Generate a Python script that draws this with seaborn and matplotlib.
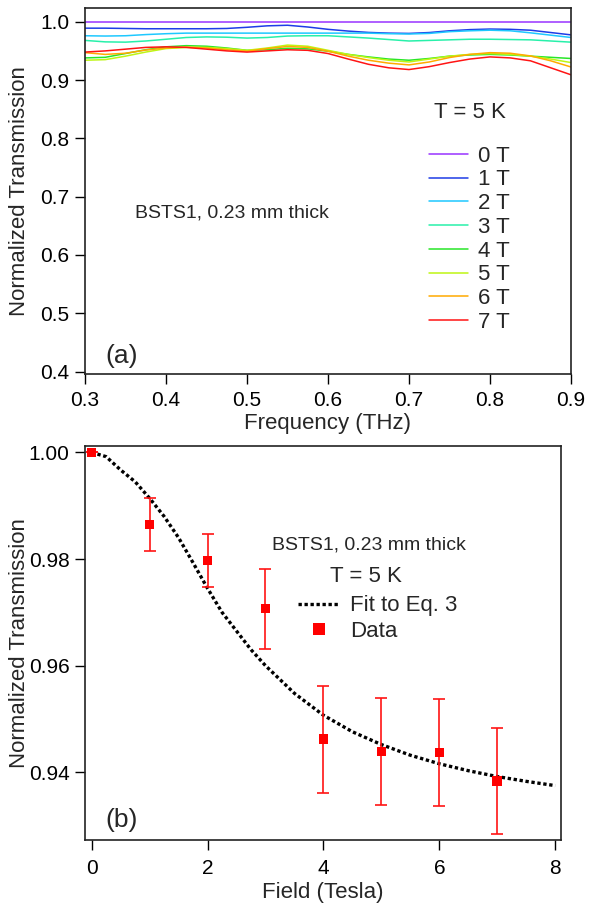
import numpy as np
import pandas as pd
import matplotlib
matplotlib.use("Agg")
import matplotlib.pyplot as plt
import seaborn as sns
from matplotlib.lines import Line2D

# ---------------- data: panel (a) ----------------
freq = [0.300, 0.325, 0.350, 0.375, 0.400, 0.425, 0.450, 0.475, 0.500, 0.525,
        0.550, 0.575, 0.600, 0.625, 0.650, 0.675, 0.700, 0.725, 0.750, 0.775,
        0.800, 0.825, 0.850, 0.875, 0.900]
t_0T = [1.000] * 25
t_1T = [0.989, 0.989, 0.9885, 0.988, 0.988, 0.988, 0.988, 0.9885, 0.9905, 0.993,
        0.994, 0.991, 0.987, 0.984, 0.9817, 0.9805, 0.980, 0.9815, 0.9845, 0.9865,
        0.9875, 0.987, 0.9855, 0.9815, 0.9775]
t_2T = [0.976, 0.9755, 0.976, 0.978, 0.9795, 0.9805, 0.9805, 0.9805, 0.9805, 0.9805,
        0.9805, 0.9805, 0.9805, 0.9805, 0.9805, 0.9795, 0.979, 0.980, 0.983, 0.9845,
        0.9855, 0.9845, 0.981, 0.977, 0.973]
t_3T = [0.968, 0.9655, 0.965, 0.967, 0.970, 0.973, 0.974, 0.9735, 0.972, 0.973,
        0.9755, 0.976, 0.976, 0.974, 0.972, 0.9695, 0.967, 0.968, 0.969, 0.970,
        0.970, 0.9695, 0.969, 0.967, 0.965]
t_4T = [0.938, 0.939, 0.9455, 0.952, 0.957, 0.959, 0.958, 0.955, 0.951, 0.952,
        0.9545, 0.9535, 0.9495, 0.944, 0.9397, 0.936, 0.934, 0.937, 0.941, 0.943,
        0.944, 0.943, 0.941, 0.939, 0.937]
t_5T = [0.934, 0.935, 0.941, 0.948, 0.954, 0.956, 0.956, 0.954, 0.951, 0.955,
        0.960, 0.958, 0.951, 0.944, 0.9386, 0.934, 0.931, 0.936, 0.941, 0.944,
        0.9455, 0.944, 0.941, 0.936, 0.930]
t_6T = [0.947, 0.944, 0.946, 0.9515, 0.955, 0.9565, 0.955, 0.952, 0.9495, 0.954,
        0.9576, 0.956, 0.9495, 0.941, 0.934, 0.929, 0.926, 0.931, 0.9386, 0.944,
        0.947, 0.946, 0.9414, 0.933, 0.9224]
t_7T = [0.948, 0.950, 0.953, 0.956, 0.957, 0.956, 0.953, 0.950, 0.948, 0.950,
        0.952, 0.951, 0.9455, 0.936, 0.927, 0.921, 0.918, 0.923, 0.930, 0.936,
        0.9397, 0.938, 0.933, 0.921, 0.909]
field_labels = ["0 T", "1 T", "2 T", "3 T", "4 T", "5 T", "6 T", "7 T"]
field_colors = ["#9933FF", "#1E3CE6", "#1EC8FF", "#28F0AA",
                "#28E628", "#BEF514", "#FFAA00", "#FF1414"]
freq_ticks = [0.3, 0.4, 0.5, 0.6, 0.7, 0.8, 0.9]
trans_ticks_a = [0.4, 0.5, 0.6, 0.7, 0.8, 0.9, 1.0]

# ---------------- data: panel (b) ----------------
fit_field = [0.0, 0.25, 0.5, 0.75, 1.0, 1.25, 1.5, 1.75, 2.0, 2.25, 2.5, 2.75,
             3.0, 3.5, 4.0, 4.5, 5.0, 5.5, 6.0, 6.5, 7.0, 7.5, 8.0]
fit_trans = [1.0, 0.9992, 0.9967, 0.9945, 0.9914, 0.9880, 0.9840, 0.9793,
             0.9745, 0.9700, 0.9665, 0.9630, 0.9600, 0.9548, 0.9507, 0.9476,
             0.9452, 0.9432, 0.9416, 0.9403, 0.9392, 0.9383, 0.9375]
data_field = [0, 1, 2, 3, 4, 5, 6, 7]
data_trans = [1.000, 0.9865, 0.9797, 0.9707, 0.9462, 0.9439, 0.9437, 0.9384]
data_err = [0.0, 0.005, 0.005, 0.0075, 0.010, 0.010, 0.010, 0.010]
field_ticks = [0, 2, 4, 6, 8]
trans_ticks_b = [0.94, 0.96, 0.98, 1.00]

# ---------------- style ----------------
sns.set_theme(style="ticks")
plt.rcParams["font.family"] = ["Liberation Sans", "DejaVu Sans"]
plt.rcParams["axes.linewidth"] = 1.2
plt.rcParams["xtick.major.size"] = 7
plt.rcParams["ytick.major.size"] = 7
plt.rcParams["xtick.major.width"] = 1.0
plt.rcParams["ytick.major.width"] = 1.0
plt.rcParams["xtick.color"] = "black"
plt.rcParams["ytick.color"] = "black"
plt.rcParams["axes.edgecolor"] = "#222222"

W, H = 592, 906
fig = plt.figure(figsize=(W / 100, H / 100), dpi=100)

def px_axes(l, t, r, b):
    return fig.add_axes([l / W, 1 - b / H, (r - l) / W, (b - t) / H])

# ---------------- panel (a) ----------------
ax1 = px_axes(85, 8, 571, 373.5)
trans_series = [t_0T, t_1T, t_2T, t_3T, t_4T, t_5T, t_6T, t_7T]
rows = []
for lab, ser in zip(field_labels, trans_series):
    for f, v in zip(freq, ser):
        rows.append((f, v, lab))
df_a = pd.DataFrame(rows, columns=["freq", "trans", "field"])
sns.lineplot(data=df_a, x="freq", y="trans", hue="field", hue_order=field_labels,
             palette=field_colors, linewidth=1.1, ax=ax1, legend=False, sort=False)
ax1.set_xlim(0.3, 0.9)
ax1.set_ylim(0.3966, 1.0236)
ax1.set_xticks(freq_ticks)
ax1.set_xticklabels([f"{v:.1f}" for v in freq_ticks])
ax1.set_yticks(trans_ticks_a)
ax1.set_yticklabels([f"{v:.1f}" for v in trans_ticks_a])
ax1.tick_params(axis="x", labelsize=15, pad=5.5)
ax1.tick_params(axis="y", labelsize=15, pad=4)
ax1.set_xlabel("Frequency (THz)", fontsize=16, labelpad=2)
ax1.set_ylabel("Normalized Transmission", fontsize=16)
ax1.yaxis.set_label_coords((30 - 85) / 486, 0.5)

handles = [Line2D([0], [0], color=c, lw=1.1) for c in field_colors]
ax1.legend(handles, field_labels, loc="upper left",
           bbox_to_anchor=((429 - 85) / 486, (373.5 - 145.5) / 365.5),
           frameon=False, fontsize=16, borderaxespad=0, borderpad=0,
           handlelength=1.75, handletextpad=0.45, labelspacing=0.125)
ax1.text((470 - 85) / 486, (373.5 - 112) / 365.5, "T = 5 K", transform=ax1.transAxes,
         ha="center", va="center", fontsize=16)
ax1.text((135 - 85) / 486, (373.5 - 213) / 365.5, "BSTS1, 0.23 mm thick",
         transform=ax1.transAxes, ha="left", va="center", fontsize=14)
ax1.text((105 - 85) / 486, (373.5 - 356) / 365.5, "(a)", transform=ax1.transAxes,
         ha="left", va="center", fontsize=19)

# ---------------- panel (b) ----------------
ax2 = px_axes(85, 446, 561, 840)
df_fit = pd.DataFrame({"field": fit_field, "trans": fit_trans})
df_dat = pd.DataFrame({"field": data_field, "trans": data_trans, "err": data_err})
sns.lineplot(data=df_fit, x="field", y="trans", ax=ax2, color="black",
             linewidth=2.4, linestyle=(0, (1, 0.8)), legend=False)
ax2.errorbar(df_dat["field"], df_dat["trans"], yerr=df_dat["err"], fmt="none",
             ecolor="#FF1414", elinewidth=1.2, capsize=4, capthick=1.2, zorder=3)
sns.scatterplot(data=df_dat, x="field", y="trans", ax=ax2, marker="s", s=48,
                color="#FF0000", edgecolor="none", linewidth=0, zorder=4, legend=False)
ax2.set_xlim(-0.115, 8.10)
ax2.set_ylim(0.9273, 1.0012)
ax2.set_xticks(field_ticks)
ax2.set_xticklabels([str(v) for v in field_ticks])
ax2.set_yticks(trans_ticks_b)
ax2.set_yticklabels([f"{v:.2f}" for v in trans_ticks_b])
ax2.tick_params(axis="x", labelsize=15, pad=6.5)
ax2.tick_params(axis="y", labelsize=15, pad=4)
ax2.set_xlabel("Field (Tesla)", fontsize=16, labelpad=3)
ax2.set_ylabel("Normalized Transmission", fontsize=16)
ax2.yaxis.set_label_coords((30 - 85) / 476, 0.5)

h_fit = Line2D([0], [0], color="black", lw=2.4, linestyle=(0, (1, 0.8)))
h_dat = Line2D([0], [0], color="#FF0000", marker="s", markersize=9, lw=0,
               markeredgewidth=0)
ax2.legend([h_fit, h_dat], ["Fit to Eq. 3", "Data"], loc="upper left",
           bbox_to_anchor=((298 - 85) / 476, (840 - 595.5) / 394),
           frameon=False, fontsize=16, borderaxespad=0, borderpad=0,
           handlelength=1.9, handletextpad=0.45, labelspacing=0.2)
ax2.text((366 - 85) / 476, (840 - 577) / 394, "T = 5 K", transform=ax2.transAxes,
         ha="center", va="center", fontsize=16)
ax2.text((272 - 85) / 476, (840 - 545) / 394, "BSTS1, 0.23 mm thick",
         transform=ax2.transAxes, ha="left", va="center", fontsize=14)
ax2.text((105 - 85) / 476, (840 - 820) / 394, "(b)", transform=ax2.transAxes,
         ha="left", va="center", fontsize=19)

fig.savefig("out.png", dpi=100)
